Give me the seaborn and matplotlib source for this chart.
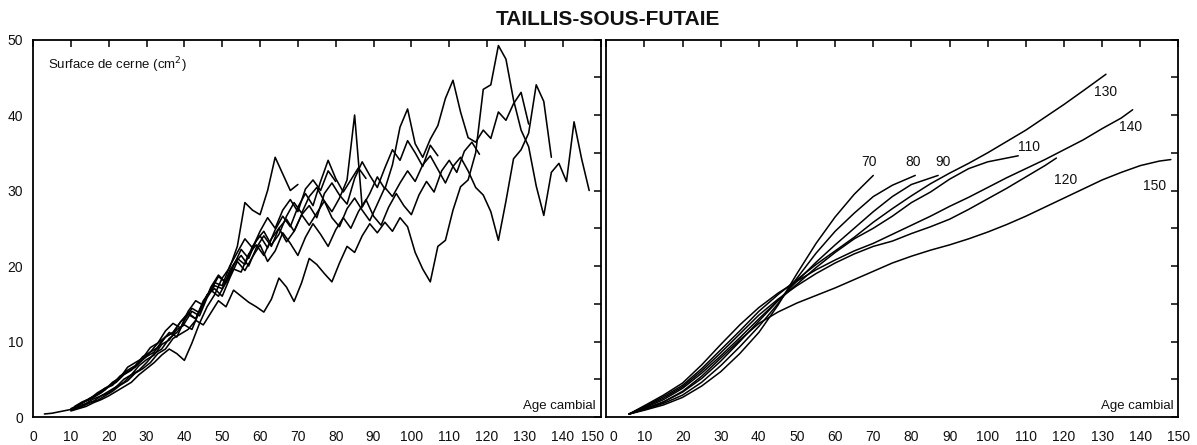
import numpy as np
import pandas as pd
import seaborn as sns
import matplotlib
matplotlib.use("Agg")
import matplotlib.pyplot as plt
import matplotlib.transforms as mtransforms
from matplotlib.ticker import MultipleLocator

# ---------------------------------------------------------------------------
# Ring area (cm2) versus cambial age, one series per tree (sampled every 2 yrs)
# ---------------------------------------------------------------------------
tree_names = ["70", "80", "90", "110", "120", "130", "140", "150"]
first_age = [10, 12, 10, 11, 10, 11, 11, 3]

ring_70 = [0.8, 1.1, 1.4, 1.9, 2.3, 2.8, 3.4, 4.0, 4.6, 5.6, 6.4, 7.2, 8.2, 9.0,
           8.4, 7.5, 9.8, 12.4, 14.6, 16.2, 18.4, 19.8, 22.6, 28.4, 27.4, 26.8,
           30.0, 34.4, 32.2, 30.0, 30.8]
ring_80 = [1.2, 1.7, 2.1, 2.8, 3.4, 4.0, 5.0, 5.6, 6.8, 7.6, 8.2, 9.6, 10.2, 11.6,
           12.2, 11.6, 14.0, 16.0, 17.8, 17.4, 20.0, 21.8, 23.6, 22.4, 24.6, 26.4,
           25.0, 27.4, 28.8, 27.2, 30.2, 31.4, 30.0, 32.6, 31.2]
ring_90 = [0.9, 1.4, 1.8, 2.4, 2.8, 3.2, 4.0, 4.6, 5.6, 6.2, 7.2, 8.4, 9.0, 10.4,
           11.2, 12.4, 14.0, 13.4, 15.8, 17.4, 17.0, 19.4, 21.0, 20.2, 22.6, 24.0,
           22.4, 24.8, 26.6, 25.2, 27.8, 29.6, 28.0, 31.2, 34.0, 31.6, 29.8, 31.4,
           33.0, 31.6]
ring_110 = [1.2, 1.9, 2.3, 3.0, 3.8, 4.2, 5.4, 6.0, 6.6, 7.6, 8.6, 9.2, 10.6, 11.2,
            12.6, 13.8, 13.0, 15.2, 16.8, 18.6, 17.8, 20.2, 21.4, 20.0, 22.4, 24.0,
            22.6, 25.0, 26.2, 24.6, 26.8, 28.0, 26.4, 29.6, 31.0, 29.4, 28.2, 31.6,
            33.8, 32.0, 30.4, 33.0, 35.4, 34.0, 36.6, 35.0, 33.2, 36.0, 34.6]
ring_120 = [1.1, 1.6, 2.2, 2.6, 3.2, 4.0, 4.6, 5.6, 6.2, 7.2, 8.0, 8.6, 10.0, 11.2,
            10.6, 12.8, 14.4, 13.8, 16.2, 17.0, 16.0, 18.4, 20.6, 19.4, 21.2, 22.8,
            20.6, 22.0, 24.4, 23.0, 21.4, 23.8, 25.6, 24.2, 22.6, 24.8, 26.4, 25.0,
            27.2, 28.8, 26.6, 25.4, 27.8, 29.6, 28.0, 26.8, 29.4, 31.2, 29.8, 32.6,
            34.0, 32.4, 35.2, 36.4, 34.8]
ring_130 = [1.3, 1.8, 2.5, 3.0, 3.6, 4.6, 5.2, 6.6, 7.2, 7.8, 9.2, 9.8, 11.4, 12.4,
            11.8, 14.0, 15.4, 14.8, 17.2, 18.8, 17.8, 20.0, 22.2, 21.0, 23.4, 24.6,
            22.8, 24.2, 26.6, 28.4, 27.0, 29.2, 30.4, 28.6, 27.2, 29.0, 31.4, 40.0,
            27.8, 29.6, 31.8, 30.2, 33.4, 38.4, 40.8, 36.2, 34.4, 36.8, 38.6, 42.2,
            44.6, 40.4, 37.0, 36.4, 38.0, 36.9, 40.4, 39.3, 41.5, 43.0, 38.8]
ring_140 = [1.4, 2.0, 2.4, 3.2, 3.8, 4.4, 5.4, 6.2, 6.8, 8.0, 8.6, 9.8, 10.6, 11.2,
            12.6, 13.6, 13.0, 15.4, 16.8, 16.0, 17.8, 19.6, 19.2, 21.6, 22.8, 21.4,
            23.6, 25.0, 23.2, 24.6, 26.8, 25.4, 27.0, 28.6, 26.4, 25.2, 27.6, 29.0,
            27.4, 26.0, 28.2, 30.4, 29.2, 31.0, 32.6, 31.2, 33.4, 34.6, 32.8, 31.0,
            33.2, 34.4, 32.6, 30.4, 29.4, 27.2, 23.4, 28.6, 34.2, 35.4, 37.6, 44.0,
            41.8, 34.4]
ring_150 = [0.4, 0.5, 0.7, 0.9, 1.1, 1.4, 1.9, 2.2, 2.8, 3.4, 4.2, 4.8, 5.8, 6.4,
            7.2, 8.4, 9.0, 10.4, 11.0, 11.6, 12.8, 12.2, 13.8, 15.4, 14.6, 16.8,
            16.0, 15.2, 14.6, 13.9, 15.6, 18.4, 17.2, 15.3, 17.8, 21.0, 20.2, 19.0,
            17.9, 20.4, 22.6, 21.8, 24.0, 25.6, 24.4, 25.8, 24.6, 26.4, 25.2, 21.8,
            19.6, 17.9, 22.6, 23.4, 27.4, 30.5, 31.4, 35.0, 43.4, 44.0, 49.2, 47.4,
            42.0, 38.0, 35.8, 30.6, 26.7, 32.4, 33.6, 31.2, 39.1, 34.2, 30.0]
ring_series = [ring_70, ring_80, ring_90, ring_110, ring_120, ring_130, ring_140, ring_150]

# ---------------------------------------------------------------------------
# Fitted growth curves, one per tree age
# ---------------------------------------------------------------------------
fit_age_70 = [6, 10, 15, 20, 25, 30, 35, 40, 45, 50, 55, 60, 65, 70]
fit_70 = [0.4, 0.9, 1.6, 2.6, 4.1, 6.0, 8.4, 11.2, 14.8, 19.0, 23.0, 26.5, 29.5, 32.0]
fit_age_80 = [6, 10, 15, 20, 25, 30, 35, 40, 45, 50, 55, 60, 65, 70, 75, 81]
fit_80 = [0.4, 1.0, 1.8, 2.9, 4.6, 6.8, 9.3, 12.0, 15.0, 18.4, 21.7, 24.6, 27.0,
          29.2, 30.7, 32.0]
fit_age_90 = [6, 10, 15, 20, 25, 30, 35, 40, 45, 50, 55, 60, 65, 70, 75, 80, 87]
fit_90 = [0.4, 1.1, 2.0, 3.3, 5.1, 7.4, 10.0, 12.7, 15.4, 18.0, 20.5, 22.8, 25.0,
          27.2, 29.2, 30.8, 32.0]
fit_age_110 = [6, 10, 15, 20, 25, 30, 35, 40, 45, 50, 55, 60, 65, 70, 75, 80, 85,
               90, 95, 100, 108]
fit_110 = [0.4, 1.2, 2.3, 3.8, 5.8, 8.1, 10.5, 13.0, 15.4, 17.6, 19.8, 21.8, 23.6,
           25.0, 26.6, 28.4, 29.8, 31.5, 32.9, 33.8, 34.6]
fit_age_120 = [6, 10, 15, 20, 25, 30, 35, 40, 45, 50, 55, 60, 65, 70, 75, 80, 85,
               90, 95, 100, 105, 110, 115, 118]
fit_120 = [0.4, 1.3, 2.5, 4.0, 6.1, 8.5, 11.0, 13.5, 15.6, 17.4, 19.0, 20.4, 21.6,
           22.6, 23.3, 24.3, 25.2, 26.2, 27.5, 28.9, 30.3, 31.8, 33.3, 34.3]
fit_age_130 = [6, 10, 15, 20, 25, 30, 35, 40, 45, 50, 55, 60, 65, 70, 75, 80, 85,
               90, 95, 100, 105, 110, 115, 120, 125, 131]
fit_130 = [0.4, 1.4, 2.7, 4.2, 6.4, 8.9, 11.4, 14.0, 16.2, 18.2, 20.2, 22.0, 23.8,
           25.8, 27.6, 29.3, 30.9, 32.3, 33.6, 35.0, 36.5, 38.0, 39.7, 41.4, 43.2, 45.4]
fit_age_140 = [6, 10, 15, 20, 25, 30, 35, 40, 45, 50, 55, 60, 65, 70, 75, 80, 85,
               90, 95, 100, 105, 110, 115, 120, 125, 130, 135, 138]
fit_140 = [0.4, 1.5, 2.9, 4.5, 6.9, 9.6, 12.2, 14.5, 16.4, 18.0, 19.5, 20.8, 22.0,
           23.0, 24.2, 25.4, 26.6, 27.9, 29.1, 30.4, 31.7, 32.9, 34.1, 35.4, 36.7,
           38.2, 39.6, 40.7]
fit_age_150 = [6, 10, 15, 20, 25, 30, 35, 40, 45, 50, 55, 60, 65, 70, 75, 80, 85,
               90, 95, 100, 105, 110, 115, 120, 125, 130, 135, 140, 145, 148]
fit_150 = [0.4, 1.0, 2.0, 3.4, 5.4, 7.8, 10.2, 12.4, 13.9, 15.1, 16.1, 17.1, 18.2,
           19.3, 20.4, 21.3, 22.1, 22.8, 23.6, 24.5, 25.5, 26.6, 27.8, 29.0, 30.2,
           31.4, 32.4, 33.3, 33.9, 34.1]
fit_ages = [fit_age_70, fit_age_80, fit_age_90, fit_age_110, fit_age_120,
            fit_age_130, fit_age_140, fit_age_150]
fit_values = [fit_70, fit_80, fit_90, fit_110, fit_120, fit_130, fit_140, fit_150]

# where each curve's age label sits (age, area)
label_age = [68.9, 80.5, 88.4, 110.7, 120.3, 131.0, 137.4, 143.8]
label_area = [33.8, 33.8, 33.8, 35.7, 31.4, 43.0, 38.4, 30.6]

age_ticks = np.arange(0, 151, 10)

# ---------------------------------------------------------------------------
rings = pd.concat(
    [pd.DataFrame({"tree": name,
                   "age": start + 2 * np.arange(len(vals)),
                   "area": vals})
     for name, start, vals in zip(tree_names, first_age, ring_series)],
    ignore_index=True)
fits = pd.concat(
    [pd.DataFrame({"tree": name, "age": ages, "area": vals})
     for name, ages, vals in zip(tree_names, fit_ages, fit_values)],
    ignore_index=True)

sns.set_theme(style="white")
plt.rcParams["font.family"] = ["Liberation Sans", "DejaVu Sans"]
plt.rcParams["text.color"] = "#111111"

fig = plt.figure(figsize=(11.97, 4.45), dpi=100)
ax_raw = fig.add_axes([0.0276, 0.0629, 0.4741, 0.8483])
ax_fit = fig.add_axes([0.5065, 0.0629, 0.4780, 0.8483])

sns.lineplot(data=rings, x="age", y="area", units="tree", estimator=None,
             color="black", linewidth=1.15, ax=ax_raw)
sns.lineplot(data=fits, x="age", y="area", units="tree", estimator=None,
             color="black", linewidth=1.1, ax=ax_fit)

for ax in (ax_raw, ax_fit):
    ax.set_xlim(0, 150)
    ax.set_ylim(0, 50)
    ax.set_xlabel("")
    ax.set_ylabel("")
    ax.set_xticks(age_ticks)
    ax.yaxis.set_major_locator(MultipleLocator(10))
    ax.yaxis.set_minor_locator(MultipleLocator(5))
    ax.tick_params(which="both", direction="in", top=True, right=True,
                   length=5, width=1.1, color="black", labelsize=10,
                   labelcolor="#111111")
    ax.tick_params(axis="x", pad=9)
    ax.tick_params(axis="y", pad=7)
    for sp in ax.spines.values():
        sp.set_color("black")
        sp.set_linewidth(1.3)
    ax.text(0.992, 0.03, "Age cambial", transform=ax.transAxes,
            ha="right", va="center", fontsize=9.5)

ax_fit.tick_params(labelleft=False)

# the two panels share a border: move the adjoining "150" and "0" apart
last_left = ax_raw.get_xticklabels()[-1]
last_left.set_horizontalalignment("right")
last_left.set_transform(last_left.get_transform()
                        + mtransforms.ScaledTranslation(2.5 / 72, 0, fig.dpi_scale_trans))
first_right = ax_fit.get_xticklabels()[0]
first_right.set_horizontalalignment("left")
first_right.set_transform(first_right.get_transform()
                          + mtransforms.ScaledTranslation(2 / 72, 0, fig.dpi_scale_trans))

ax_raw.text(0.026, 0.932, "Surface de cerne (cm$^2$)", transform=ax_raw.transAxes,
            ha="left", va="center", fontsize=9.5)

for lab, xa, ya in zip(tree_names, label_age, label_area):
    ax_fit.text(xa, ya, lab, ha="center", va="center", fontsize=10)

fig.text(0.508, 0.956, "TAILLIS-SOUS-FUTAIE", ha="center", va="center",
         fontsize=15, fontweight="bold")

fig.savefig("out.png", dpi=100, facecolor="white")
